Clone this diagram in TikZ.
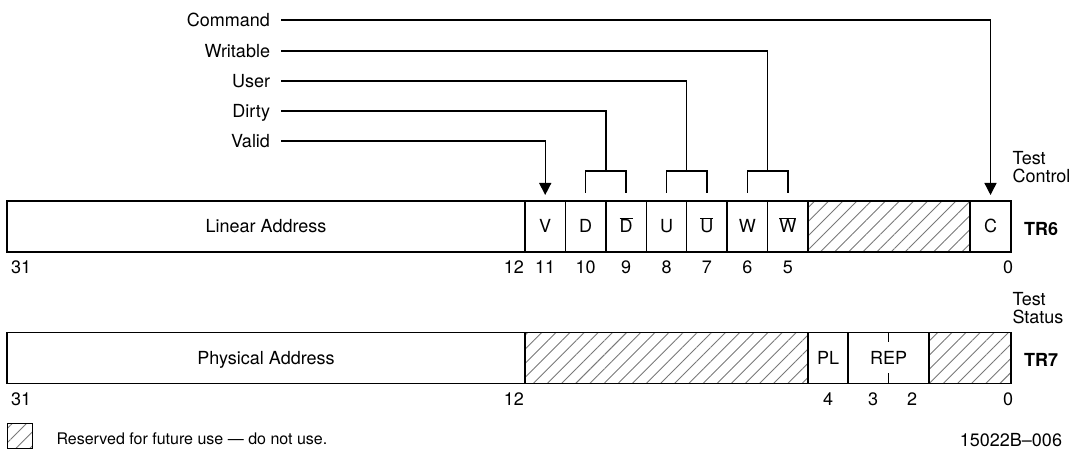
\documentclass[tikz,border=0pt]{standalone}
\usepackage{fontspec}
\setmainfont{TeX Gyre Heros}
\usetikzlibrary{positioning,calc,arrows.meta,patterns.meta}
\definecolor{hatchGray}{RGB}{120,120,120}
\newcommand{\regfont}{\fontsize{18}{18}\selectfont}
\newcommand{\bitbar}[1]{$\overline{\mbox{#1}}$}

\begin{document}
\begin{tikzpicture}[
    x=1pt, y=1pt,
    cell/.style={draw, line width=1.4pt, minimum height=51pt, inner sep=0pt, outer sep=0pt, font=\regfont, text height=13pt, text depth=0pt},
    bit/.style={cell, minimum width=40.43pt},
    reserved/.style={cell, pattern={Lines[angle=45,distance=10pt,line width=0.9pt]}, pattern color=hatchGray},
    bitnum/.style={inner sep=0pt, outer sep=0pt, font=\regfont, text height=13pt, text depth=0pt},
    field/.style={inner sep=0pt, outer sep=0pt, anchor=east, font=\regfont, text height=13pt, text depth=0pt},
    wire/.style={line width=1.4pt},
    regname/.style={inner sep=0pt, outer sep=0pt, anchor=west, font=\regfont\bfseries},
    side/.style={inner sep=0pt, outer sep=0pt, anchor=south west, align=left, font=\regfont}
]
    \useasboundingbox (0,0) rectangle (1074,450);

    % TR6
    \node[cell, minimum width=518pt, anchor=west] (la) at (7,223.5) {Linear Address};
    \node[bit, right=0pt of la] (v) {V};
    \node[bit, right=0pt of v] (d) {D};
    \node[bit, right=0pt of d] (db) {\bitbar{D}};
    \node[bit, right=0pt of db] (u) {U};
    \node[bit, right=0pt of u] (ub) {\bitbar{U}};
    \node[bit, right=0pt of ub] (w) {W};
    \node[bit, right=0pt of w] (wb) {\bitbar{W}};
    \node[reserved, minimum width=162pt, right=0pt of wb] (r6) {};
    \node[cell, minimum width=41pt, right=0pt of r6] (c) {C};

    \node[regname, right=13pt of c, yshift=-3pt] (tr6) {TR6};
    \node[side, above right=18pt and 1.5pt of c.north east] (ctl) {Test\\Control};

    \node[bitnum, below right=9pt and 4pt of la.south west] (n31a) {31};
    \node[bitnum, below left=9pt and 1pt of la.south east] (n12a) {12};
    \node[bitnum, below=9pt of v] (n11) {11};
    \node[bitnum, below=9pt of d] (n10) {10};
    \node[bitnum, below=9pt of db] (n9) {9};
    \node[bitnum, below=9pt of u] (n8) {8};
    \node[bitnum, below=9pt of ub] (n7) {7};
    \node[bitnum, below=9pt of w] (n6) {6};
    \node[bitnum, below=9pt of wb] (n5) {5};
    \node[bitnum, below=9pt of c.south east, xshift=-3pt] (n0a) {0};

    % field names
    \node[field] (cmd) at (270,430) {Command};
    \node[field] (wrt) at (270,399) {Writable};
    \node[field] (usr) at (270,369) {User};
    \node[field] (drt) at (270,339) {Dirty};
    \node[field] (vld) at (270,309) {Valid};

    \coordinate (dtop) at ($(d.north)!0.5!(db.north)+(0,30)$);
    \coordinate (utop) at ($(u.north)!0.5!(ub.north)+(0,30)$);
    \coordinate (wtop) at ($(w.north)!0.5!(wb.north)+(0,30)$);

    \draw[wire] ([yshift=8pt]d.north) |- (dtop) -| ([yshift=8pt]db.north);
    \draw[wire] ([yshift=8pt]u.north) |- (utop) -| ([yshift=8pt]ub.north);
    \draw[wire] ([yshift=8pt]w.north) |- (wtop) -| ([yshift=8pt]wb.north);

    \draw[wire, shorten <=11pt, shorten >=6pt, -{Triangle[length=12pt,width=12pt]}] (vld.east) -| (v.north);
    \draw[wire, shorten <=11pt] (drt.east) -| (dtop);
    \draw[wire, shorten <=11pt] (usr.east) -| (utop);
    \draw[wire, shorten <=11pt] (wrt.east) -| (wtop);
    \draw[wire, shorten <=11pt, shorten >=6pt, -{Triangle[length=12pt,width=12pt]}] (cmd.east) -| (c.north);

    % TR7
    \node[cell, minimum width=518pt, anchor=west] (pa) at (7,92) {Physical Address};
    \node[reserved, minimum width=283pt, right=0pt of pa] (r7a) {};
    \node[cell, minimum width=40pt, right=0pt of r7a] (pl) {PL};
    \node[cell, minimum width=81pt, right=0pt of pl] (rep) {REP};
    \node[reserved, minimum width=82pt, right=0pt of rep] (r7b) {};
    \draw[wire] (rep.north) -- ++(0,-10);
    \draw[wire] (rep.south) -- ++(0,10);

    \node[regname, right=13pt of r7b, yshift=-2pt] (tr7) {TR7};
    \node[side, above right=9pt and 1.5pt of r7b.north east] (sts) {Test\\Status};

    \node[bitnum, below right=9pt and 4pt of pa.south west] (n31b) {31};
    \node[bitnum, below left=9pt and 1pt of pa.south east] (n12b) {12};
    \node[bitnum, below=9pt of pl] (n4) {4};
    \node[bitnum, below=9pt of rep, xshift=-15.5pt] (n3) {3};
    \node[bitnum, below=9pt of rep, xshift=23.5pt] (n2) {2};
    \node[bitnum, below=9pt of r7b.south east, xshift=-3pt] (n0b) {0};

    % legend
    \node[reserved, minimum width=25pt, minimum height=25pt] (leg) at (20,14) {};
    \node[field, right=24pt of leg, yshift=-3pt, font=\fontsize{16}{18}\selectfont, text height=11.5pt] (legtxt) {Reserved for future use --- do not use.};
    \node[field] (figid) at (1062,10) {15022B--006};
\end{tikzpicture}
\end{document}
